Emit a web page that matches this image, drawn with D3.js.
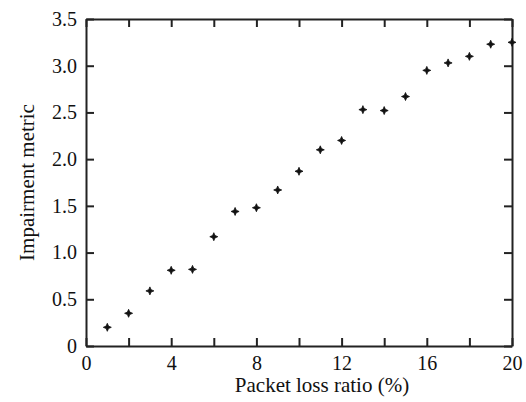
<!DOCTYPE html>
<html>
<head>
<meta charset="utf-8">
<script src="https://cdn.jsdelivr.net/npm/d3@7"></script>
<style>
  body { margin: 0; background: #fff; }
</style>
</head>
<body>
<div id="chart"></div>
<script>
// Data
const lossRatio = [1, 2, 3, 4, 5, 6, 7, 8, 9, 10, 11, 12, 13, 14, 15, 16, 17, 18, 19, 20];
const impairment = [0.20, 0.35, 0.59, 0.81, 0.82, 1.17, 1.44, 1.48, 1.67, 1.87,
                    2.10, 2.20, 2.53, 2.52, 2.67, 2.95, 3.03, 3.10, 3.23, 3.25];
const xTicks = [0, 2, 4, 6, 8, 10, 12, 14, 16, 18, 20];
const yTicks = [0, 0.5, 1.0, 1.5, 2.0, 2.5, 3.0, 3.5];

const FONT = "Liberation Serif";
const W = 526, H = 402;
const margin = { top: 19, right: 14, bottom: 56, left: 86 };
const width = W - margin.left - margin.right,
      height = H - margin.top - margin.bottom;

const svg = d3.select("#chart").append("svg")
  .attr("width", W)
  .attr("height", H);

const g = svg.append("g")
  .attr("transform", `translate(${margin.left},${margin.top})`);

const x = d3.scaleLinear().domain([0, 20]).range([0, width]);
const y = d3.scaleLinear().domain([0, 3.5]).range([height, 0]);

const tickLen = 8;
const xFmt = d => (d % 4 === 0 ? d : "");
const yFmt = d => (d === 0 ? "0" : d3.format(".1f")(d));

// bottom axis (ticks pointing inward)
const xAxis = g.append("g")
  .attr("transform", `translate(0,${height})`)
  .call(d3.axisBottom(x).tickValues(xTicks).tickFormat(xFmt).tickSizeInner(-tickLen).tickSizeOuter(0).tickPadding(10));
// top axis
const xTop = g.append("g")
  .call(d3.axisTop(x).tickValues(xTicks).tickFormat("").tickSizeInner(-tickLen).tickSizeOuter(0));
// left axis
const yAxis = g.append("g")
  .call(d3.axisLeft(y).tickValues(yTicks).tickFormat(yFmt).tickSizeInner(-tickLen).tickSizeOuter(0).tickPadding(9));
// right axis
const yRight = g.append("g")
  .attr("transform", `translate(${width},0)`)
  .call(d3.axisRight(y).tickValues(yTicks).tickFormat("").tickSizeInner(-tickLen).tickSizeOuter(0));

[xAxis, xTop, yAxis, yRight].forEach(a => {
  a.attr("font-family", FONT).attr("font-size", 20);
  a.select(".domain").attr("stroke", "#222").attr("stroke-width", 2);
  a.selectAll(".tick line").attr("stroke", "#222").attr("stroke-width", 2);
  a.selectAll(".tick text").attr("fill", "#111");
});

// four point star marker
const star4 = {
  draw(ctx, size) {
    const r = Math.sqrt(size) / 2, ri = r * 0.3;
    ctx.moveTo(0, -r);
    ctx.lineTo(ri, -ri);
    ctx.lineTo(r, 0);
    ctx.lineTo(ri, ri);
    ctx.lineTo(0, r);
    ctx.lineTo(-ri, ri);
    ctx.lineTo(-r, 0);
    ctx.lineTo(-ri, -ri);
    ctx.closePath();
  }
};

g.selectAll("path.pt")
  .data(lossRatio.map((d, i) => ({ x: d, y: impairment[i] })))
  .join("path")
  .attr("class", "pt")
  .attr("transform", d => `translate(${x(d.x)},${y(d.y)})`)
  .attr("d", d3.symbol().type(star4).size(64))
  .attr("fill", "#111")
  .attr("stroke", "#111")
  .attr("stroke-width", 0.8);

// axis titles
svg.append("text")
  .attr("x", 322)
  .attr("y", 392)
  .attr("text-anchor", "middle")
  .attr("font-family", FONT)
  .attr("font-size", 21)
  .attr("fill", "#111")
  .text("Packet loss ratio (%)");

svg.append("text")
  .attr("transform", `translate(34,${margin.top + height / 2}) rotate(-90)`)
  .attr("text-anchor", "middle")
  .attr("font-family", FONT)
  .attr("font-size", 21)
  .attr("fill", "#111")
  .text("Impairment metric");
</script>
</body>
</html>
